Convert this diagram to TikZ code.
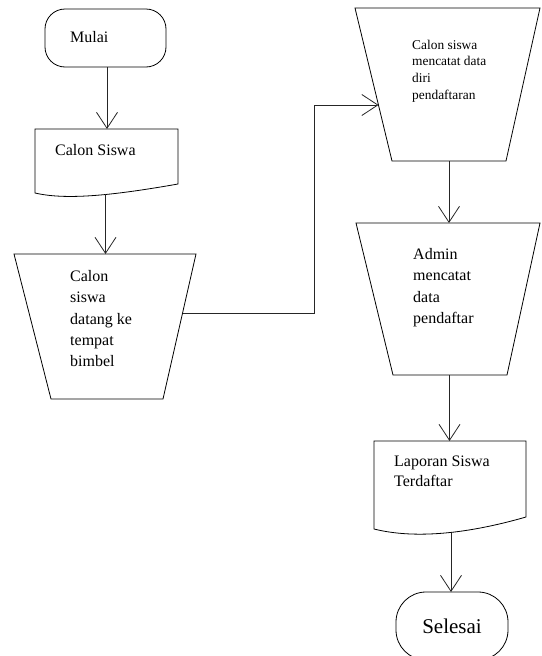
\documentclass[tikz,border=0pt]{standalone}
\usepackage{fontspec}
\setmainfont{Liberation Serif}
\usetikzlibrary{arrows.meta,calc}
\begin{document}
\begin{tikzpicture}[x=1pt,y=-1pt,
  shp/.style={draw=black, line width=0.8pt},
  flow/.style={draw=black!85, line width=0.8pt, -{Straight Barb[length=16pt,width=21pt,line width=0.8pt]}},
  txt/.style={anchor=north west, inner sep=0pt, align=left, font=\fontsize{16}{21.3}\selectfont},
  txtsmall/.style={anchor=north west, inner sep=0pt, align=left, font=\fontsize{13.4}{16.7}\selectfont},
  one/.style={anchor=base west, inner sep=0pt, font=\fontsize{16}{20}\selectfont},
]
\useasboundingbox (0,0) rectangle (541,656);

% Mulai (terminator)
\node[shp, rounded corners=20pt, minimum width=121pt, minimum height=58pt, inner sep=0pt] (mulai) at (105.5,38) {};
\node[one] (mulaitxt) at (70,42) {Mulai};

% Calon Siswa (document)
\draw[shp] (35,129) -- (178,129) -- (178,184) .. controls (110,196) and (65,200) .. (35,193) -- cycle;
\node[one] (doc1txt) at (55,155) {Calon Siswa};
\coordinate (doc1top) at (107,129);
\coordinate (doc1bot) at (105.5,194);

% Calon siswa datang ke tempat bimbel (manual operation)
\draw[shp] (14,254) -- (196,254) -- (163,399) -- (51,399) -- cycle;
\node[txt] (trap1txt) at (70,270.1) {Calon\\siswa\\datang ke\\tempat\\bimbel};
\coordinate (trap1top) at (105.5,254);
\coordinate (trap1right) at (182.6,313);
\coordinate (bend1) at (314,313);
\coordinate (bend2) at (314,105);

% Calon siswa mencatat data diri pendaftaran
\draw[shp] (355,8) -- (540,8) -- (506,161) -- (392,161) -- cycle;
\node[txtsmall] (trap2txt) at (412,39.8) {Calon siswa\\mencatat data\\diri\\pendaftaran};
\coordinate (trap2left) at (378.5,105);
\coordinate (trap2bot) at (449,161);

% Admin mencatat data pendaftar
\draw[shp] (356,223) -- (540,223) -- (507,375) -- (393,375) -- cycle;
\node[txt] (trap3txt) at (413,248.1) {Admin\\mencatat\\data\\pendaftar};
\coordinate (trap3top) at (449,223);
\coordinate (trap3bot) at (449.5,375);

% Laporan Siswa Terdaftar (document)
\draw[shp] (374,441) -- (526,441) -- (526,517) .. controls (460,536) and (410,538) .. (374,529) -- cycle;
\node[one] (doc2txt) at (394,466) {Laporan Siswa};
\node[one] (doc2txt2) at (394,486) {Terdaftar};
\coordinate (doc2top) at (449.5,441);
\coordinate (doc2bot) at (451,533);

% Selesai (terminator)
\node[shp, rounded corners=30pt, minimum width=112pt, minimum height=68pt, inner sep=0pt,
      font=\fontsize{21}{24}\selectfont] (selesai) at (452,626) {Selesai};
\coordinate (selesaitop) at (451,592);

% connectors
\draw[flow] (mulai.south -| doc1top) -- (doc1top);
\draw[flow] (doc1bot) -- (trap1top);
\draw[flow] (trap1right) -- (bend1) -- (bend2) -- (trap2left);
\draw[flow] (trap2bot) -- (trap3top);
\draw[flow] (trap3bot) -- (doc2top);
\draw[flow] (doc2bot) -- (selesaitop);
\end{tikzpicture}
\end{document}
